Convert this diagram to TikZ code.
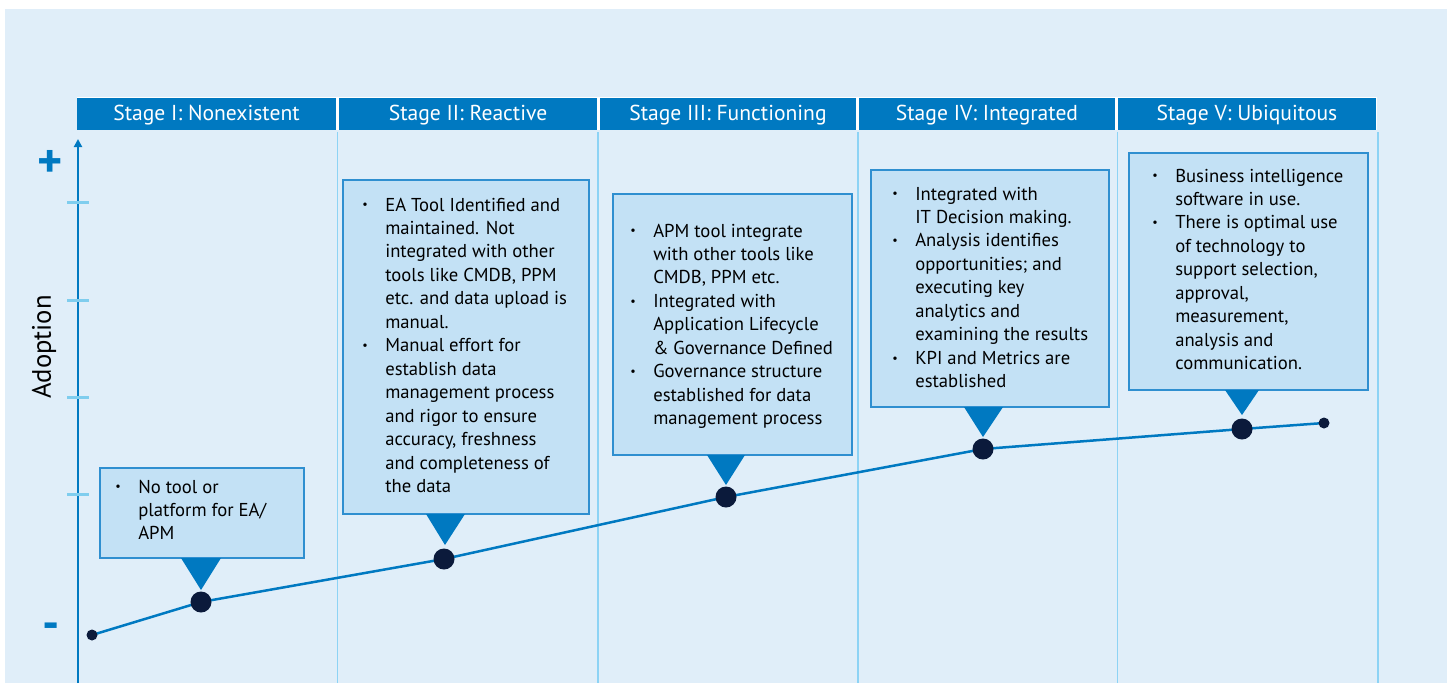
\documentclass[tikz,border=0pt]{standalone}
\usepackage{fontspec}
\setmainfont{PT Sans}
\usetikzlibrary{arrows.meta}
\newdimen\pxu \pxu=0.75pt
\definecolor{bgblue}{HTML}{E0EEF9}
\definecolor{headblue}{HTML}{0079C1}
\definecolor{boxfill}{HTML}{C3E1F5}
\definecolor{boxline}{HTML}{2F8FD0}
\definecolor{dotnavy}{HTML}{0B1A3B}
\definecolor{divblue}{HTML}{8DD3F5}
\definecolor{tickblue}{HTML}{7FCDEE}
\newcommand{\bul}{\raisebox{1.6pt}{\scalebox{0.65}{\textbullet}}}
\newcommand{\blist}[1]{\begin{tabular}[t]{@{}p{23\pxu}@{}l@{}}#1\end{tabular}}
\begin{document}
\begin{tikzpicture}[x=0.75pt,y=-0.75pt,
  header/.style={fill=headblue, minimum height=32\pxu, inner sep=0pt},
  headtext/.style={text=white, anchor=base, inner sep=0pt, font=\fontsize{16.2}{19}\selectfont},
  callout/.style={fill=boxfill, draw=boxline, line width=1.5\pxu, inner sep=0pt},
  bodytext/.style={anchor=base west, inner sep=0pt, font=\fontsize{14}{17.6}\selectfont, text=black},
  bigdot/.style={circle, fill=dotnavy, minimum size=21\pxu, inner sep=0pt},
  smalldot/.style={circle, fill=dotnavy, minimum size=11\pxu, inner sep=0pt},
  pointer/.style={fill=headblue},
  divider/.style={draw=divblue, line width=1.5\pxu},
  tickmark/.style={draw=tickblue, line width=3\pxu},
  trend/.style={draw=headblue, line width=2.5\pxu},
  axis/.style={draw=headblue, line width=2.5\pxu, -{Triangle[length=6pt,width=6pt]}},
  signlabel/.style={text=headblue, inner sep=0pt, font=\fontsize{36}{36}\selectfont\bfseries},
]
\useasboundingbox (0,0) rectangle (1447,683);
\fill[white] (0,0) rectangle (1447,683);
\fill[bgblue] (5,9) rectangle (1447,683);

% headers
\fill[white] (77,97) rectangle (1377,130);
\node[header, minimum width=259\pxu] (h1) at (206.5,113.5) {};
\node[header, minimum width=258\pxu] (h2) at (468,113.5) {};
\node[header, minimum width=256\pxu] (h3) at (728,113.5) {};
\node[header, minimum width=256\pxu] (h4) at (987,113.5) {};
\node[header, minimum width=258\pxu] (h5) at (1247,113.5) {};
\node[headtext] (ht1) at (206.5,120) {Stage I: Nonexistent};
\node[headtext] (ht2) at (468,120) {Stage II: Reactive};
\node[headtext] (ht3) at (728,120) {Stage III: Functioning};
\node[headtext] (ht4) at (987,120) {Stage IV: Integrated};
\node[headtext] (ht5) at (1247,120) {Stage V: Ubiquitous};

% dividers
\foreach \x in {337.5,598,858,1117.5,1378} \draw[divider] (\x,132) -- (\x,683);

% axis
\coordinate (ax0) at (78,683);
\coordinate (ax1) at (78,139);
\draw[axis] (ax0) -- (ax1);
\foreach \y in {202,300,397,494} \draw[tickmark] (67,\y) -- (89,\y);
\node[signlabel] (plus) at (50,164) {+};
\node[signlabel] (minus) at (51,631) {-};
\node[rotate=90, inner sep=0pt, font=\fontsize{20}{24}\selectfont] (adopt) at (44,347) {Adoption};

% callout boxes
\node[callout, minimum width=204\pxu, minimum height=90\pxu] (b1) at (202,513) {};
\node[callout, minimum width=246\pxu, minimum height=334\pxu] (b2) at (466,347) {};
\node[callout, minimum width=239\pxu, minimum height=261\pxu] (b3) at (732.5,324.5) {};
\node[callout, minimum width=238\pxu, minimum height=237\pxu] (b4) at (990,288.5) {};
\node[callout, minimum width=239\pxu, minimum height=237\pxu] (b5) at (1248.5,271.5) {};

% pointers
\fill[pointer] (181,558) -- (221,558) -- (201,590) -- cycle;
\fill[pointer] (426,514) -- (465,514) -- (445,545) -- cycle;
\fill[pointer] (707,455) -- (745,455) -- (726,485) -- cycle;
\fill[pointer] (964,407) -- (1003,407) -- (983,437) -- cycle;
\fill[pointer] (1225,390) -- (1259,390) -- (1242,415) -- cycle;

% texts
\node[bodytext] (t1) at (115,493) {\blist{\bul & No tool or\\ & platform for EA/\\ & APM}};
\node[bodytext] (t2) at (362,211) {\blist{\bul & EA Tool Identified and\\ & maintained. Not\\ & integrated with other\\ & tools like CMDB, PPM\\ & etc. and data upload is\\ & manual.\\ \bul & Manual effort for\\ & establish data\\ & management process\\ & and rigor to ensure\\ & accuracy, freshness\\ & and completeness of\\ & the data}};
\node[bodytext] (t3) at (630,237) {\blist{\bul & APM tool integrate\\ & with other tools like\\ & CMDB, PPM etc.\\ \bul & Integrated with\\ & Application Lifecycle\\ & \& Governance Defined\\ \bul & Governance structure\\ & established for data\\ & management process}};
\node[bodytext] (t4) at (892,200) {\blist{\bul & Integrated with\\ & IT Decision making.\\ \bul & Analysis identifies\\ & opportunities; and\\ & executing key\\ & analytics and\\ & examining the results\\ \bul & KPI and Metrics are\\ & established}};
\node[bodytext] (t5) at (1152,182) {\blist{\bul & Business intelligence\\ & software in use.\\ \bul & There is optimal use\\ & of technology to\\ & support selection,\\ & approval,\\ & measurement,\\ & analysis and\\ & communication.}};

% trend line
\coordinate (p0) at (92,635);
\coordinate (p1) at (201,602);
\coordinate (p2) at (444,559);
\coordinate (p3) at (726,497);
\coordinate (p4) at (983,449);
\coordinate (p5) at (1242,429);
\coordinate (p6) at (1324,423);
\draw[trend] (p0) -- (p1) -- (p2) -- (p3) -- (p4) -- (p5) -- (p6);
\node[smalldot] (d0) at (p0) {};
\node[bigdot] (d1) at (p1) {};
\node[bigdot] (d2) at (p2) {};
\node[bigdot] (d3) at (p3) {};
\node[bigdot] (d4) at (p4) {};
\node[bigdot] (d5) at (p5) {};
\node[smalldot] (d6) at (p6) {};
\end{tikzpicture}
\end{document}
